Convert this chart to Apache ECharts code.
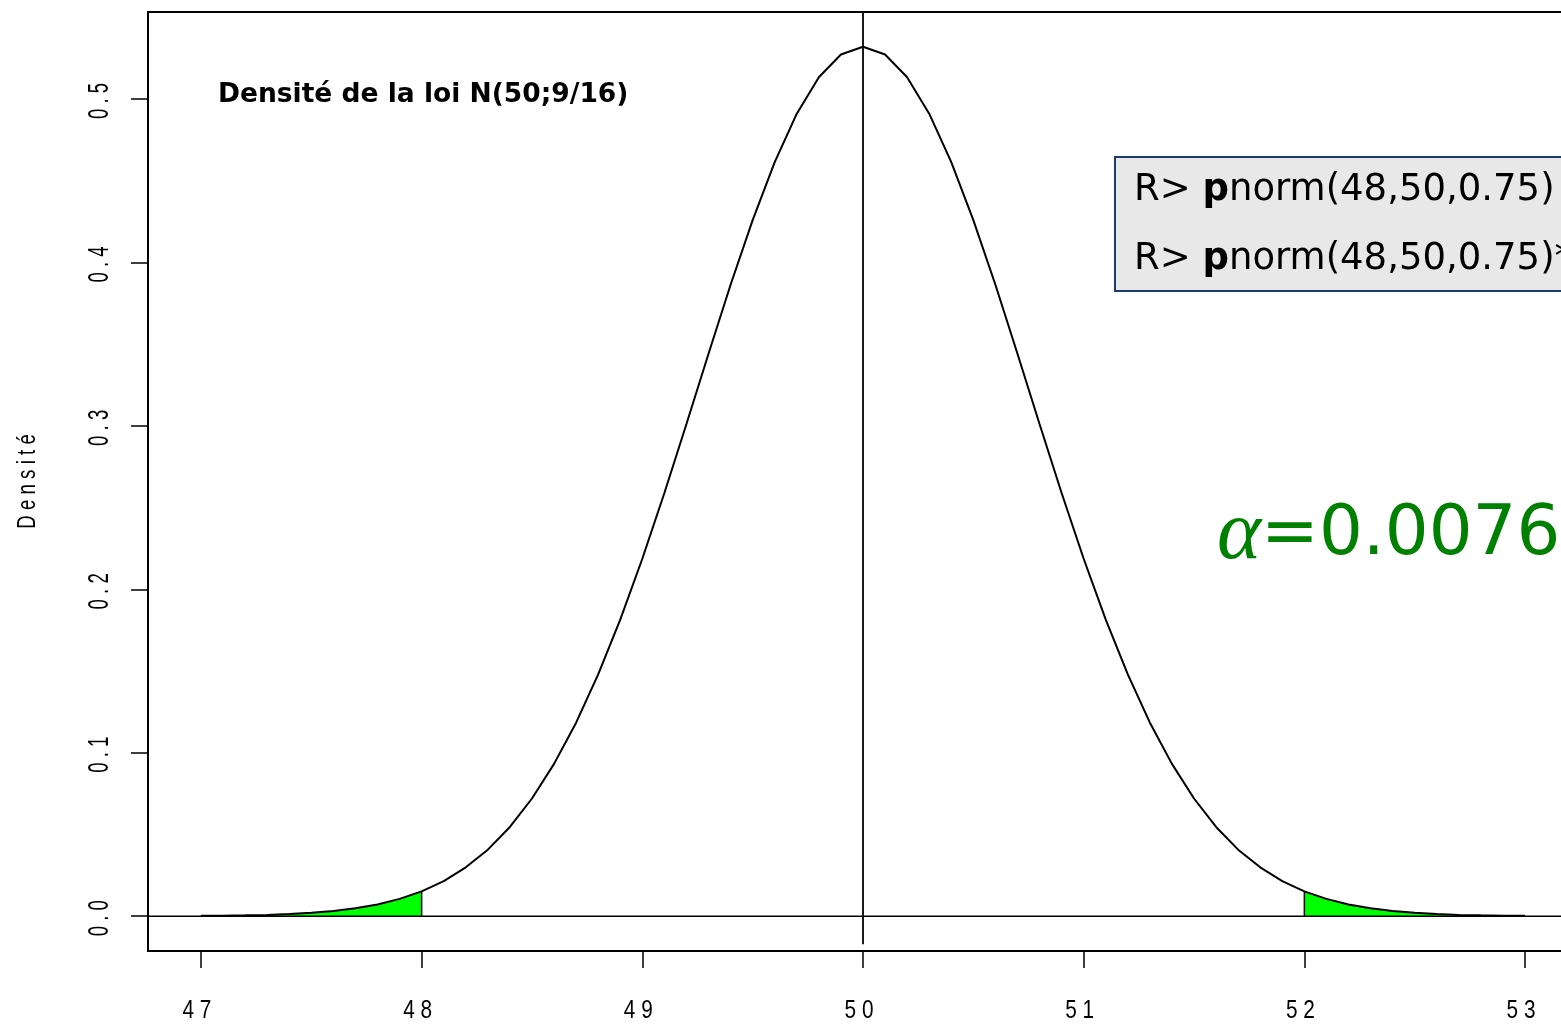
<!DOCTYPE html>
<html>
<head>
<meta charset="utf-8">
<title>Densité de la loi N(50;9/16)</title>
<script src="https://cdn.jsdelivr.net/npm/echarts@6/dist/echarts.min.js"></script>
<style>
  html, body { margin: 0; padding: 0; background: #ffffff; }
  #chart { width: 1561px; height: 1024px; }
</style>
</head>
<body>
<div id="chart"></div>
<script>
// Abscissa of the density curve, 47 to 53 by 0.1
const xValues = [
  47.0, 47.1, 47.2, 47.3, 47.4, 47.5, 47.6, 47.7, 47.8, 47.9,
  48.0, 48.1, 48.2, 48.3, 48.4, 48.5, 48.6, 48.7, 48.8, 48.9,
  49.0, 49.1, 49.2, 49.3, 49.4, 49.5, 49.6, 49.7, 49.8, 49.9,
  50.0, 50.1, 50.2, 50.3, 50.4, 50.5, 50.6, 50.7, 50.8, 50.9,
  51.0, 51.1, 51.2, 51.3, 51.4, 51.5, 51.6, 51.7, 51.8, 51.9,
  52.0, 52.1, 52.2, 52.3, 52.4, 52.5, 52.6, 52.7, 52.8, 52.9,
  53.0
];

// Density of N(50; 9/16) at each abscissa
const density = [
  0.0002, 0.0003, 0.0005, 0.0008, 0.0013, 0.0021, 0.0032, 0.0048, 0.0072, 0.0106,
  0.0152, 0.0215, 0.0299, 0.0407, 0.0546, 0.0720, 0.0932, 0.1184, 0.1479, 0.1814,
  0.2187, 0.2589, 0.3011, 0.3441, 0.3863, 0.4259, 0.4614, 0.4910, 0.5133, 0.5272,
  0.5319, 0.5272, 0.5133, 0.4910, 0.4614, 0.4259, 0.3863, 0.3441, 0.3011, 0.2589,
  0.2187, 0.1814, 0.1479, 0.1184, 0.0932, 0.0720, 0.0546, 0.0407, 0.0299, 0.0215,
  0.0152, 0.0106, 0.0072, 0.0048, 0.0032, 0.0021, 0.0013, 0.0008, 0.0005, 0.0003,
  0.0002
];

// Critical bounds of the rejection region and the mean
const lowerBound = 48;
const upperBound = 52;
const mean = 50;
const densityAtBound = 0.0152;

// Tick positions and their labels
const xTicks = [47, 48, 49, 50, 51, 52, 53];
const xTickLabels = ['4 7', '4 8', '4 9', '5 0', '5 1', '5 2', '5 3'];
const yTicks = [0, 0.1, 0.2, 0.3, 0.4, 0.5];
const yTickLabels = ['0 . 0', '0 . 1', '0 . 2', '0 . 3', '0 . 4', '0 . 5'];
const yTitle = 'D e n s i t é';

// Axis ranges (data range plus 4 % on each side)
const xRange = [46.76, 53.24];
const yRange = [-0.0213, 0.5532];
const meanLineBottom = -0.0171;

const curve = xValues.map((x, i) => [x, density[i]]);
const leftTail = curve.filter(p => p[0] <= lowerBound);
const rightTail = curve.filter(p => p[0] >= upperBound);

const axisFont = '"Liberation Sans", Arial, sans-serif';

const chart = echarts.init(document.getElementById('chart'), null, { renderer: 'canvas' });

const baseGraphics = [
  {
    type: 'text', left: 218, top: 82, z: 10,
    style: {
      text: 'Densité de la loi N(50;9/16)',
      fill: '#000000',
      font: 'bold 26.5px "DejaVu Sans", sans-serif'
    }
  },
  {
    type: 'rect', z: 10,
    shape: { x: 1115, y: 157, width: 520, height: 134 },
    style: { fill: '#e8e8e8', stroke: '#1c3d6b', lineWidth: 2 }
  },
  {
    type: 'text', x: 1134, y: 190, z: 11,
    style: {
      text: 'R> {b|p}norm(48,50,0.75)',
      fill: '#000000',
      fontFamily: '"DejaVu Sans", sans-serif',
      fontSize: 37,
      verticalAlign: 'middle',
      rich: { b: { fontWeight: 'bold', fontFamily: '"DejaVu Sans", sans-serif', fontSize: 37 } }
    }
  },
  {
    type: 'text', x: 1134, y: 259, z: 11,
    style: {
      text: 'R> {b|p}norm(48,50,0.75)*2',
      fill: '#000000',
      fontFamily: '"DejaVu Sans", sans-serif',
      fontSize: 37,
      verticalAlign: 'middle',
      rich: { b: { fontWeight: 'bold', fontFamily: '"DejaVu Sans", sans-serif', fontSize: 37 } }
    }
  },
  {
    type: 'text', x: 1217, y: 536, z: 11,
    style: {
      text: '{a|α}=0.0076',
      fill: '#008000',
      fontFamily: '"DejaVu Sans", sans-serif',
      fontSize: 69,
      verticalAlign: 'middle',
      rich: { a: { fontFamily: '"Liberation Serif", "DejaVu Serif", serif', fontStyle: 'italic', fontSize: 84, fill: '#008000' } }
    }
  }
];

chart.setOption({
  animation: false,
  backgroundColor: '#ffffff',
  grid: {
    left: 148, top: 12, right: -17, bottom: 73,
    show: true, borderColor: '#000000', borderWidth: 2,
    backgroundColor: 'transparent',
    containLabel: false,
    outerBoundsMode: 'none'
  },
  xAxis: {
    type: 'value',
    min: xRange[0], max: xRange[1],
    splitLine: { show: false },
    axisLine: { show: true, onZero: false, lineStyle: { color: '#000000', width: 2 } },
    axisTick: {
      show: true, length: 17, inside: false,
      customValues: xTicks,
      lineStyle: { color: '#000000', width: 1.5 }
    },
    axisLabel: { show: false }
  },
  yAxis: {
    type: 'value',
    min: yRange[0], max: yRange[1],
    splitLine: { show: false },
    axisLine: { show: true, onZero: false, lineStyle: { color: '#000000', width: 2 } },
    axisTick: {
      show: true, length: 17, inside: false,
      customValues: yTicks,
      lineStyle: { color: '#000000', width: 1.5 }
    },
    axisLabel: { show: false }
  },
  series: [
    {
      name: 'leftTail', type: 'line', data: leftTail,
      symbol: 'none', silent: true, z: 1,
      lineStyle: { width: 0, opacity: 0 },
      areaStyle: { color: '#00ff00', opacity: 1, origin: 'auto' }
    },
    {
      name: 'rightTail', type: 'line', data: rightTail,
      symbol: 'none', silent: true, z: 1,
      lineStyle: { width: 0, opacity: 0 },
      areaStyle: { color: '#00ff00', opacity: 1, origin: 'auto' }
    },
    {
      name: 'lowerEdge', type: 'line', data: [[lowerBound, 0], [lowerBound, densityAtBound]],
      symbol: 'none', silent: true, z: 3,
      lineStyle: { color: '#000000', width: 1.5 }
    },
    {
      name: 'upperEdge', type: 'line', data: [[upperBound, 0], [upperBound, densityAtBound]],
      symbol: 'none', silent: true, z: 3,
      lineStyle: { color: '#000000', width: 1.5 }
    },
    {
      name: 'zeroLine', type: 'line', data: [[xRange[0], 0], [xRange[1], 0]],
      symbol: 'none', silent: true, z: 3,
      lineStyle: { color: '#000000', width: 1.5 }
    },
    {
      name: 'meanLine', type: 'line', data: [[mean, meanLineBottom], [mean, yRange[1]]],
      symbol: 'none', silent: true, z: 3,
      lineStyle: { color: '#000000', width: 1.8 }
    },
    {
      name: 'density', type: 'line', data: curve,
      symbol: 'none', silent: true, z: 4,
      lineStyle: { color: '#000000', width: 2 }
    }
  ],
  graphic: baseGraphics
});

// Condensed tick labels, placed through the axes' own scales
const labelGraphics = [];
xTicks.forEach((v, i) => {
  const px = chart.convertToPixel({ xAxisIndex: 0 }, v);
  labelGraphics.push({
    type: 'text', x: px - 4, y: 1011, scaleX: 0.8, z: 10, silent: true,
    style: {
      text: xTickLabels[i], fill: '#000000',
      fontFamily: axisFont, fontSize: 26,
      align: 'center', verticalAlign: 'middle'
    }
  });
});
yTicks.forEach((v, i) => {
  const py = chart.convertToPixel({ yAxisIndex: 0 }, v);
  labelGraphics.push({
    type: 'text', x: 100, y: py + 2, rotation: Math.PI / 2, scaleX: 0.62, z: 10, silent: true,
    style: {
      text: yTickLabels[i], fill: '#000000',
      fontFamily: axisFont, fontSize: 30,
      align: 'center', verticalAlign: 'middle'
    }
  });
});
const yMid = chart.convertToPixel({ yAxisIndex: 0 }, (yRange[0] + yRange[1]) / 2);
labelGraphics.push({
  type: 'text', x: 28, y: yMid, rotation: Math.PI / 2, scaleX: 0.72, z: 10, silent: true,
  style: {
    text: yTitle, fill: '#000000',
    fontFamily: axisFont, fontSize: 26,
    align: 'center', verticalAlign: 'middle'
  }
});

chart.setOption({ graphic: baseGraphics.concat(labelGraphics) });
</script>
</body>
</html>
